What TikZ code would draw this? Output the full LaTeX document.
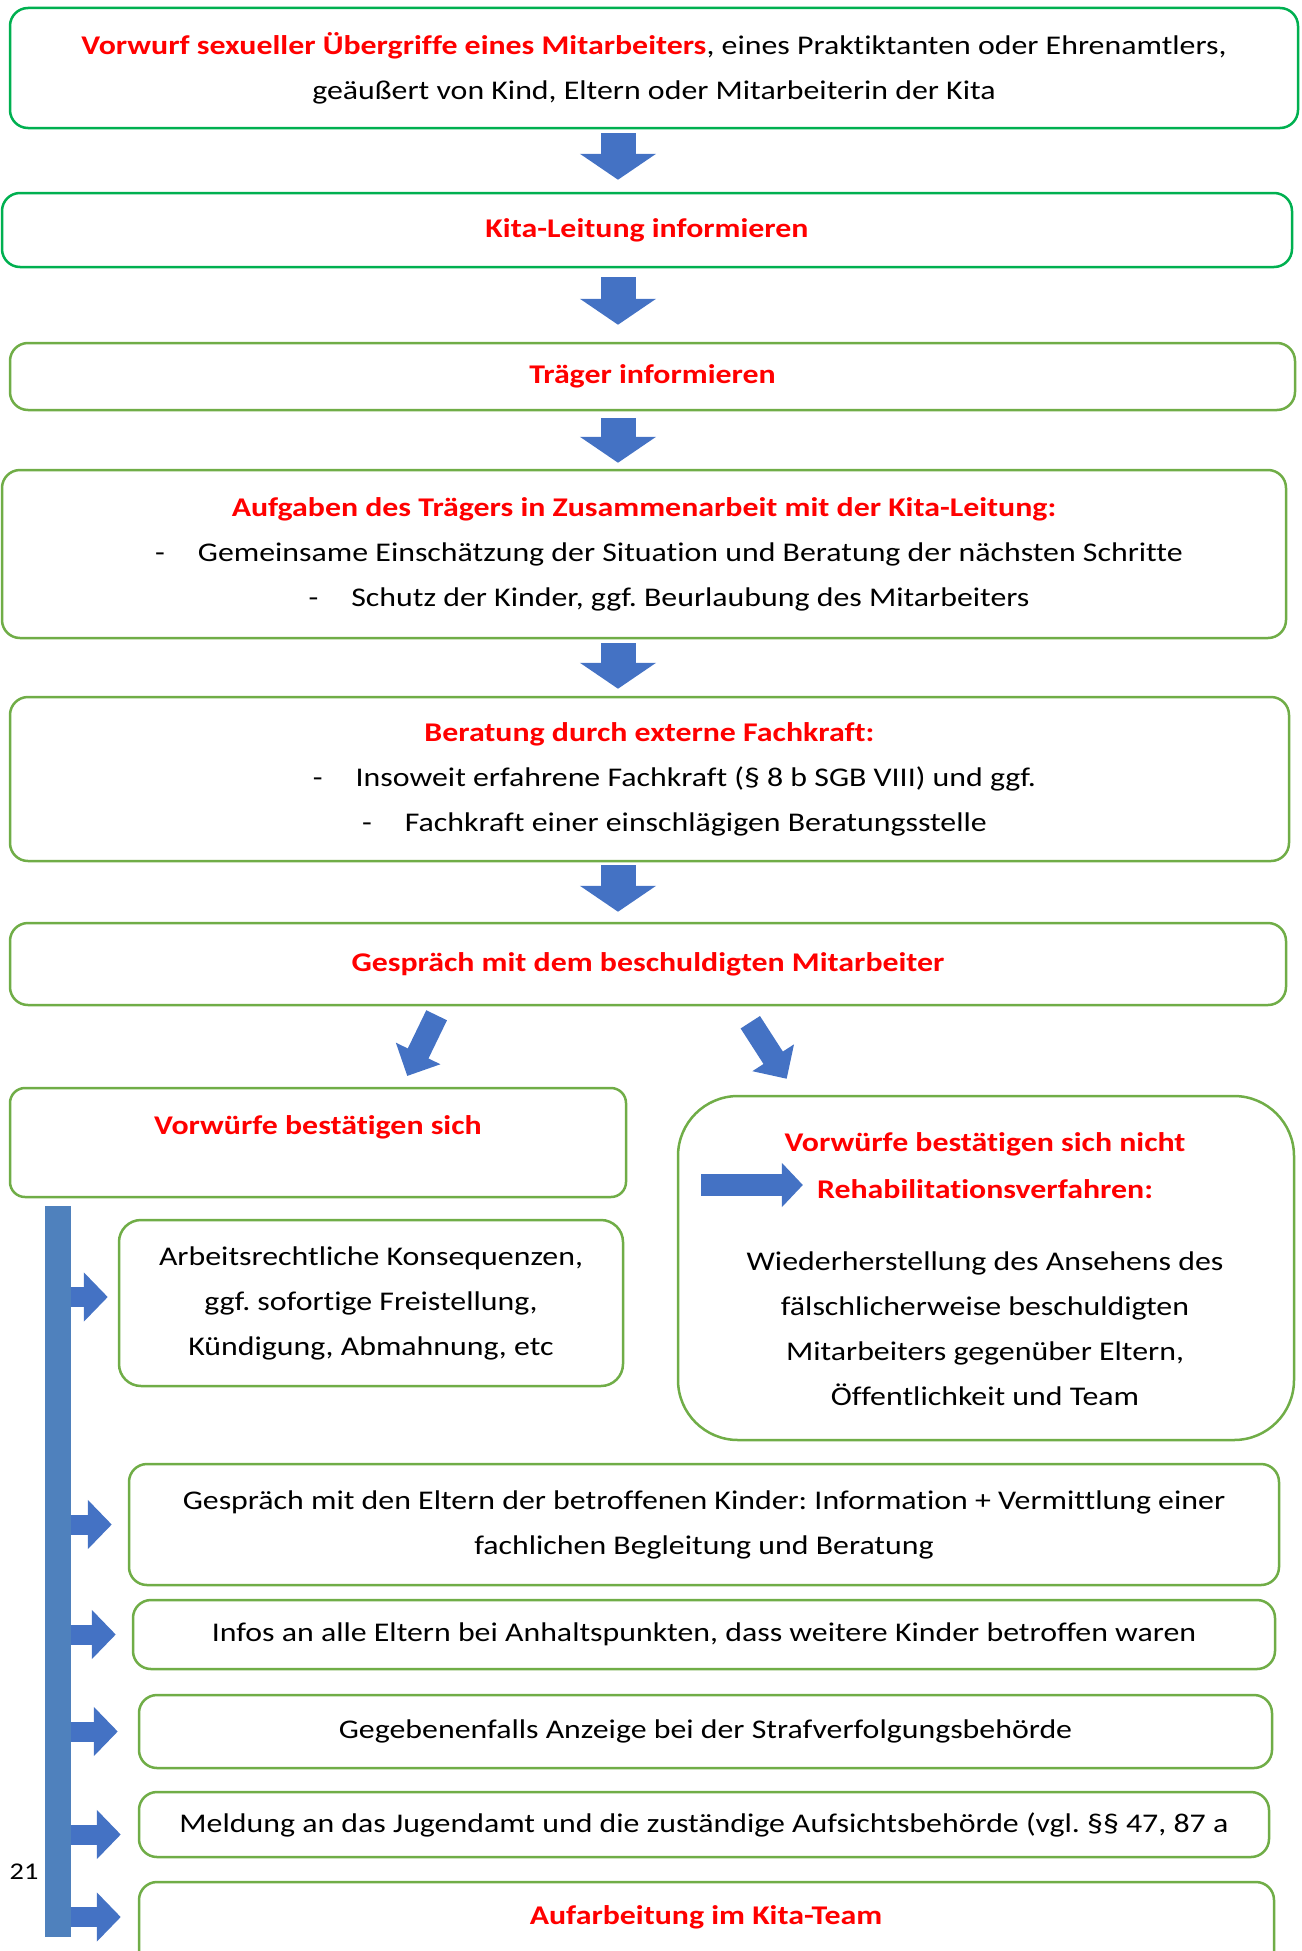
\documentclass[tikz,border=0pt]{standalone}
\usepackage{fontspec}
\setmainfont{Carlito}[FakeStretch=1.18,Ligatures=NoCommon]
\usetikzlibrary{arrows.meta,calc}
\definecolor{kitagreen}{HTML}{00B050}
\definecolor{boxgreen}{HTML}{70AD47}
\definecolor{arrowblue}{HTML}{4472C4}
\definecolor{barblue}{HTML}{4F81BD}
\definecolor{alarmred}{HTML}{FF0000}
\frenchspacing
\begin{document}
\begin{tikzpicture}[x=1pt,y=-1pt]

\tikzset{mybox/.style={draw=boxgreen,line width=2.5pt,rounded corners=18pt,fill=white,inner sep=0pt,align=center,text=black,font=\fontsize{27}{45}\selectfont},}
\tikzset{mybox2/.style={mybox,draw=kitagreen},}
\tikzset{mytext/.style={inner sep=0pt,align=center,text=black,font=\fontsize{27}{45}\selectfont},}
\tikzset{redtitle/.style={mytext,text=alarmred,font=\fontsize{27}{45}\selectfont\bfseries},}
\tikzset{downarrow/.style={arrowblue,line width=35pt,-{Triangle[width=75pt,length=26pt]}},}
\tikzset{diagarrow/.style={arrowblue,line width=23pt,-{Triangle[width=48pt,length=25pt]}},}
\tikzset{sidearrow/.style={arrowblue,line width=20pt,-{Triangle[width=48pt,length=24pt]}},}
\tikzset{rightarrow/.style={arrowblue,line width=22pt,-{Triangle[width=43pt,length=21pt]}},}

\useasboundingbox (0,0) rectangle (1301,1951);

%KETTE OBEN
\draw (654,68) node [mybox2,minimum width=1288pt,minimum height=120pt] (vorwurf) {\textcolor{alarmred}{\bfseries Vorwurf sexueller Übergriffe eines Mitarbeiters}, eines Praktiktanten oder Ehrenamtlers,\\ geäußert von Kind, Eltern oder Mitarbeiterin der Kita};
\draw (647,230) node [mybox2,minimum width=1290pt,minimum height=74pt] (leitung) {\textcolor{alarmred}{\bfseries Kita-Leitung informieren}};
\draw (652.5,376.5) node [mybox,minimum width=1285pt,minimum height=67pt] (traeger) {\textcolor{alarmred}{\bfseries Träger informieren}};
\draw (644,554) node [mybox,minimum width=1284pt,minimum height=168pt] (aufgaben) {\textcolor{alarmred}{\bfseries Aufgaben des Trägers in Zusammenarbeit mit der Kita-Leitung:}\\
  \hspace*{50pt}-\hspace{33pt}Gemeinsame Einschätzung der Situation und Beratung der nächsten Schritte\\
  \hspace*{50pt}-\hspace{33pt}Schutz der Kinder, ggf. Beurlaubung des Mitarbeiters};
\draw (649.5,779) node [mybox,minimum width=1279pt,minimum height=164pt] (beratung) {\textcolor{alarmred}{\bfseries Beratung durch externe Fachkraft:}\\
  \hspace*{50pt}-\hspace{33pt}Insoweit erfahrene Fachkraft (§ 8 b SGB VIII) und ggf.\\
  \hspace*{50pt}-\hspace{33pt}Fachkraft einer einschlägigen Beratungsstelle};
\draw (648,964) node [mybox,minimum width=1276pt,minimum height=82pt] (gespraech) {\textcolor{alarmred}{\bfseries Gespräch mit dem beschuldigten Mitarbeiter}};

\coordinate (spine) at (618,0);
\draw[downarrow,shorten <=4pt,shorten >=12pt] (spine |- vorwurf.south) -- (spine |- leitung.north);
\draw[downarrow,shorten <=9pt,shorten >=17pt] (spine |- leitung.south) -- (spine |- traeger.north);
\draw[downarrow,shorten <=7pt,shorten >=6pt] (spine |- traeger.south) -- (spine |- aufgaben.north);
\draw[downarrow,shorten <=4pt,shorten >=7pt] (spine |- aufgaben.south) -- (spine |- beratung.north);
\draw[downarrow,shorten <=3pt,shorten >=10pt] (spine |- beratung.south) -- (spine |- gespraech.north);

%VERZWEIGUNG
\draw (318,1142.5) node [mybox,rounded corners=15pt,minimum width=616pt,minimum height=109pt] (ja) {};
\draw (318,1127) node [redtitle] (jaT) {Vorwürfe bestätigen sich};
\draw (986,1268) node [mybox,rounded corners=60pt,minimum width=616pt,minimum height=344pt] (nein) {};
\draw (985,1144) node [redtitle] (neinT) {Vorwürfe bestätigen sich nicht};
\draw (985,1189) node [redtitle] (reha) {Rehabilitationsverfahren:};
\draw (985,1328.5) node [mytext] (rehaB) {Wiederherstellung des Ansehens des\\ fälschlicherweise beschuldigten\\ Mitarbeiters gegenüber Eltern,\\ Öffentlichkeit und Team};

\draw[diagarrow,shorten <=10pt,shorten >=12pt] (441,0 |- gespraech.south) -- (402,0 |- ja.north);
\draw[diagarrow,shorten <=19pt,shorten >=19pt] (740,0 |- gespraech.south) -- (797,0 |- nein.north);
\coordinate (rehaTail) at (701,1185);
\draw[rightarrow,shorten >=14pt] (rehaTail) -- (rehaTail -| reha.west);

%MASSNAHMEN
\draw (371,1303) node [mybox,rounded corners=22pt,minimum width=504pt,minimum height=166pt] (konsequenz) {Arbeitsrechtliche Konsequenzen,\\ ggf. sofortige Freistellung,\\ Kündigung, Abmahnung, etc};
\draw (704,1524.5) node [mybox,minimum width=1150pt,minimum height=121pt] (eltern) {Gespräch mit den Eltern der betroffenen Kinder: Information + Vermittlung einer\\ fachlichen Begleitung und Beratung};
\draw (704,1634.5) node [mybox,minimum width=1142pt,minimum height=69pt] (infos) {Infos an alle Eltern bei Anhaltspunkten, dass weitere Kinder betroffen waren};
\draw (705.5,1731.5) node [mybox,minimum width=1133pt,minimum height=73pt] (anzeige) {Gegebenenfalls Anzeige bei der Strafverfolgungsbehörde};
\draw (704,1824.5) node [mybox,minimum width=1130pt,minimum height=65pt] (meldung) {Meldung an das Jugendamt und die zuständige Aufsichtsbehörde (vgl. §§ 47, 87 a};
\draw (706.5,1928.5) node [mybox,minimum width=1135pt,minimum height=93pt] (team) {};
\draw (706,1917) node [redtitle] (teamT) {Aufarbeitung im Kita-Team};

\coordinate (barTop) at (58,1206);
\coordinate (barBot) at (58,1937);
\draw[sidearrow,shorten >=10pt] (barTop |- {$(konsequenz.west)+(0,-6)$}) -- ($(konsequenz.west)+(0,-6)$);
\draw[sidearrow,shorten >=16pt] (barTop |- eltern.west) -- (eltern.west);
\draw[sidearrow,shorten >=16pt] (barTop |- infos.west) -- (infos.west);
\draw[sidearrow,shorten >=20pt] (barTop |- anzeige.west) -- (anzeige.west);
\draw[sidearrow,shorten >=17pt] (barTop |- {$(meldung.west)+(0,10)$}) -- ($(meldung.west)+(0,10)$);
\draw[sidearrow,shorten >=17pt] (barTop |- teamT) -- (team.west |- teamT);
\draw[barblue,line width=26pt] (barTop) -- (barBot);

\draw (24,1872) node [mytext,font=\fontsize{24}{28}\selectfont] (seite) {21};

\end{tikzpicture}
\end{document}
